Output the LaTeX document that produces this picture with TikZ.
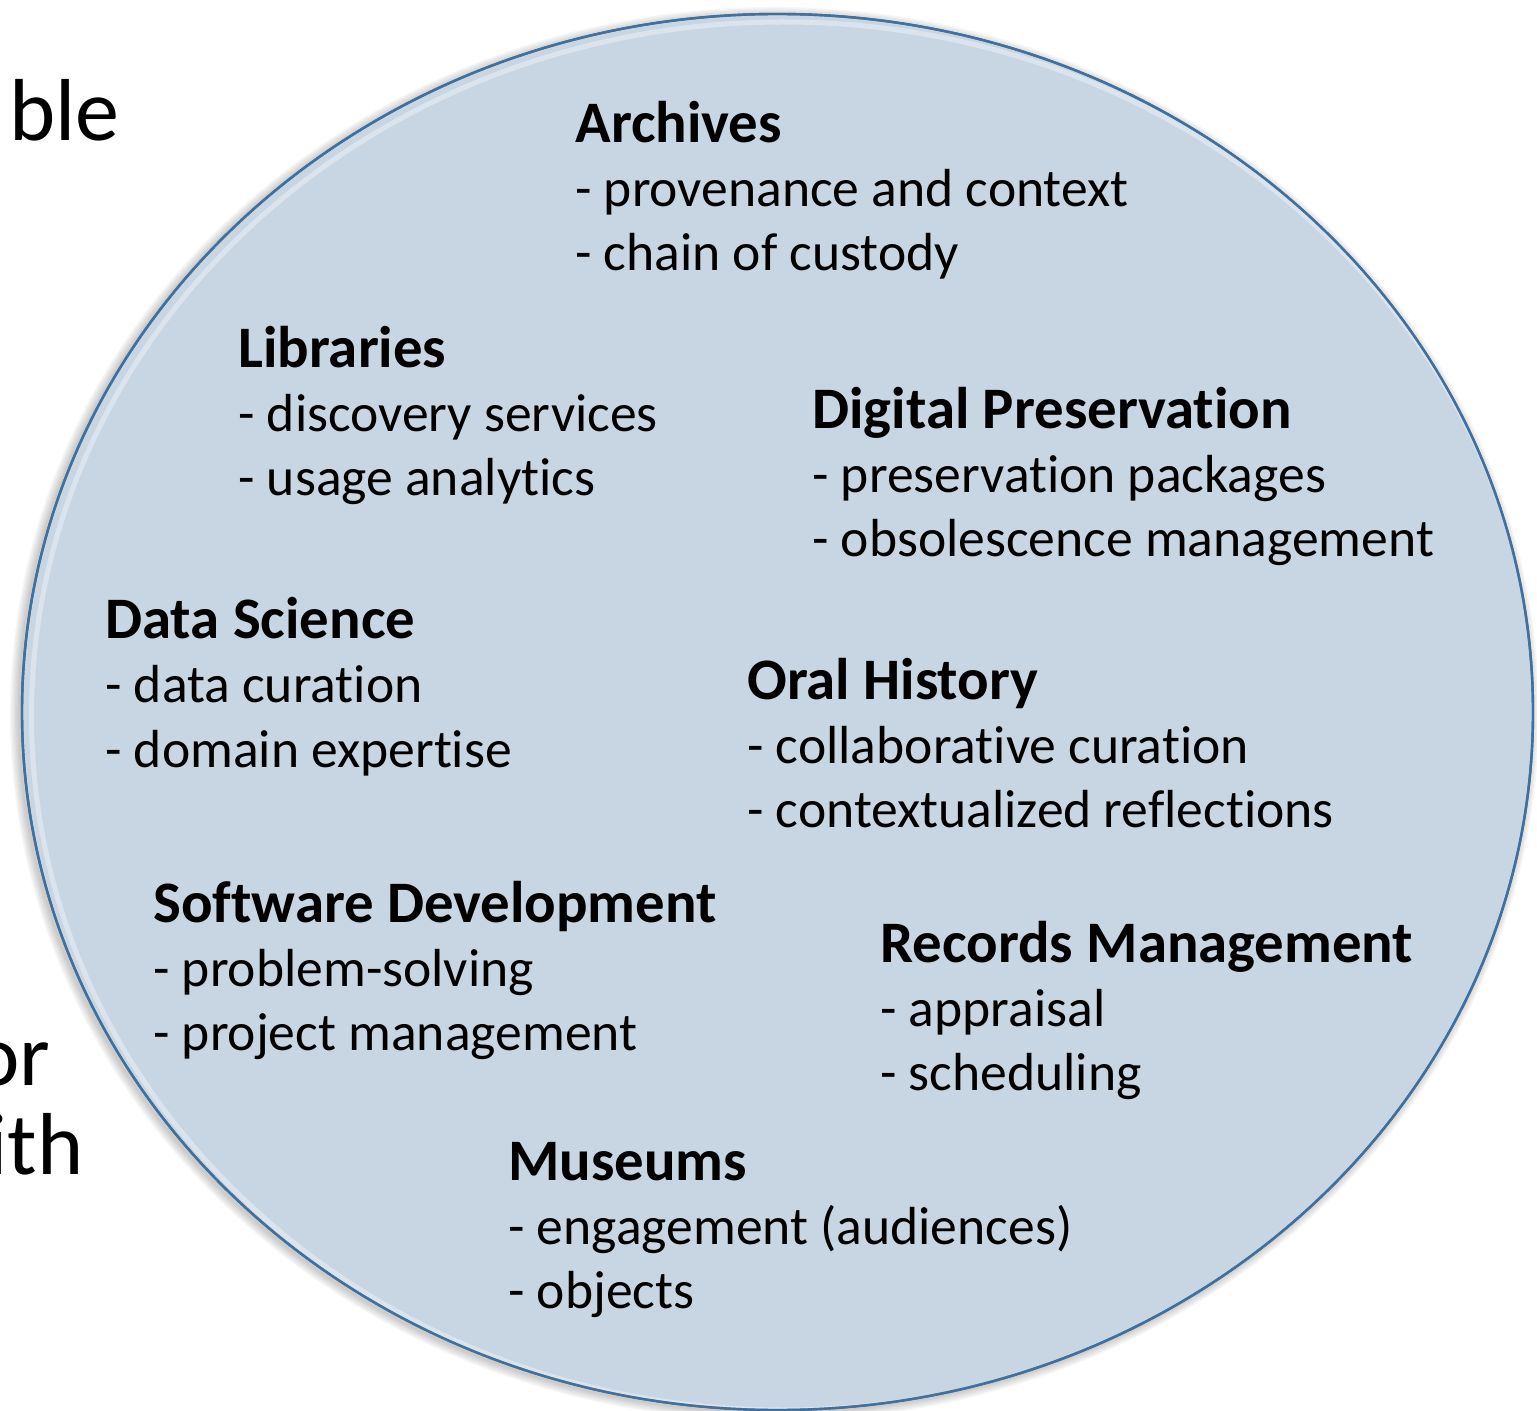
\documentclass[tikz,border=0pt]{standalone}
\usepackage{fontspec}
\setmainfont{Carlito}[Ligatures={NoCommon}]
\definecolor{discfill}{RGB}{200,214,228}
\definecolor{discline}{RGB}{65,112,156}
\tikzset{
  head/.style={anchor=base west, inner sep=0pt, font=\fontsize{29.4}{32}\selectfont\bfseries},
  item/.style={anchor=base west, inner sep=0pt, font=\fontsize{26.8}{32}\selectfont},
  edge text/.style={anchor=base west, inner sep=0pt, font=\fontsize{44}{44}\selectfont},
  disc/.style={fill=discfill, draw=discline, line width=1.2pt},
}
\newcommand{\fieldblock}[6]{%
  \node[head] (#1) at (#2,#3) {#4};
  \node[item] (#1-a) at (#2,#3+64) {- #5};
  \node[item] (#1-b) at (#2,#3+128) {- #6};
}
\begin{document}
\begin{tikzpicture}[x=0.5pt,y=-0.5pt]
\useasboundingbox (0,0) rectangle (1537,1411);
\clip (0,0) rectangle (1537,1411);
% partial text to the left
\node[edge text] (t1) at (9,141) {ble};
\node[edge text] (t2) at (-27,1085) {or};
\node[edge text] (t3) at (-13,1174) {ith};
% shadow
\foreach \i in {1,...,7}{
  \fill[black, opacity=0.03] (774.5,714) ellipse [x radius=755.5+\i*1.3, y radius=698+\i*1.3];
}
% disc
\path[disc] (777.5,712) ellipse [x radius=755.5, y radius=698];
\begin{scope}
  \clip (777.5,712) ellipse [x radius=755.5, y radius=698];
  \draw[white, opacity=0.35, line width=2.5pt] (783.5,716) ellipse [x radius=752, y radius=694];
\end{scope}
\draw[discline, line width=1.2pt] (777.5,712) ellipse [x radius=755.5, y radius=698];
% blocks
\fieldblock{arch}{575}{143}{Archives}{provenance and context}{chain of custody}
\fieldblock{lib}{238}{368}{Libraries}{discovery services}{usage analytics}
\fieldblock{dp}{812}{429}{Digital Preservation}{preservation packages}{obsolescence management}
\fieldblock{ds}{105}{639}{Data Science}{data curation}{domain expertise}
\fieldblock{oh}{747}{699}{Oral History}{collaborative curation}{contextualized reflections}
\fieldblock{sd}{153}{922}{Software Development}{problem-solving}{project management}
\fieldblock{rm}{880}{962}{Records Management}{appraisal}{scheduling}
\fieldblock{mu}{508}{1180}{Museums}{engagement (audiences)}{objects}
\end{tikzpicture}
\end{document}
